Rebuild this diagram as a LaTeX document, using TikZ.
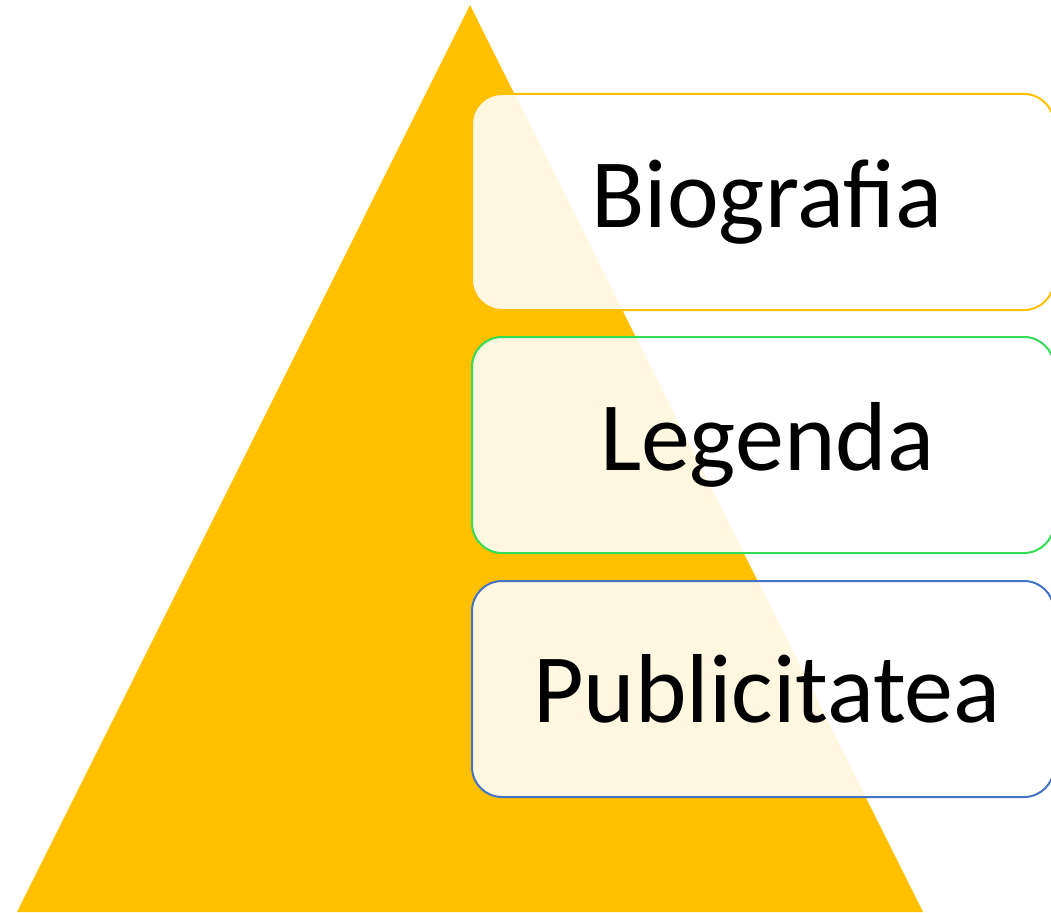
\documentclass[tikz,border=0pt]{standalone}
\usepackage{fontspec}
\setmainfont{Carlito}
\definecolor{pyr}{HTML}{FFC000}
\definecolor{grn}{HTML}{33DD55}
\definecolor{blu}{HTML}{4472C4}
\tikzset{level/.style={draw=#1,line width=2pt,fill=white,fill opacity=.88,
  rounded corners=30pt,minimum width=582pt,minimum height=216pt,inner sep=0pt},
  word/.style={inner sep=0pt,font=\fontsize{98}{104}\selectfont}}
\begin{document}
\begin{tikzpicture}[x=1pt,y=-1pt]
\useasboundingbox(0,0)rectangle(1051,912);
\clip(0,0)rectangle(1051,912);
\fill[pyr](470,5)--(17,912)--(923,912)--cycle;
\foreach\n/\t/\c/\y in{bio/Biografia/pyr/202,leg/Legenda/grn/445,pub/Publicitatea/blu/689}{
\node[level=\c,anchor=west](\n)at(471,\y){};
\node[word](\n-t)at(767,\y){\t};}
\end{tikzpicture}
\end{document}
